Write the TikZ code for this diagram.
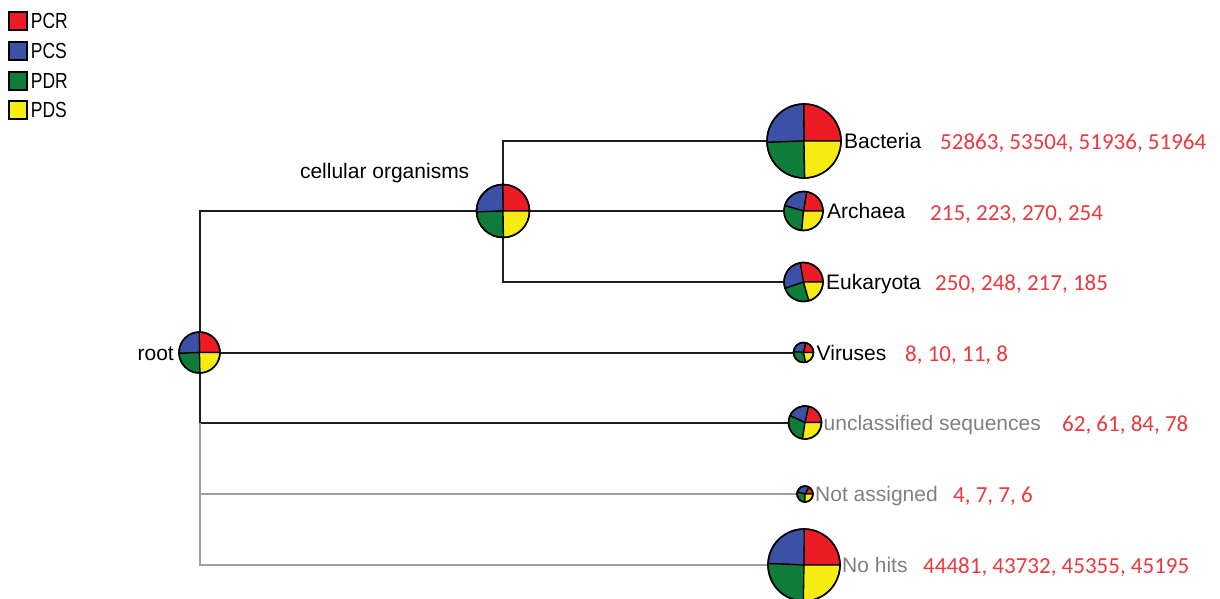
\documentclass[tikz,border=0pt]{standalone}
\usepackage{fontspec}
\setmainfont{Liberation Sans}
\newfontfamily\countfont{Carlito}

\definecolor{pcr}{RGB}{237,28,36}
\definecolor{pcs}{RGB}{60,80,165}
\definecolor{pdr}{RGB}{16,124,58}
\definecolor{pds}{RGB}{246,236,20}
\definecolor{countred}{RGB}{236,56,62}
\definecolor{dimtext}{RGB}{128,128,128}
\definecolor{dimline}{RGB}{160,160,160}
\definecolor{treeline}{RGB}{30,30,30}

% pie of the four read counts (PCR, PCS, PDR, PDS) drawn on node #1 with radius #2
\newcommand{\taxpie}[6]{%
  \edef\sliceA{\fpeval{360*(#3)/((#3)+(#4)+(#5)+(#6))}}%
  \edef\sliceB{\fpeval{360*((#3)+(#4))/((#3)+(#4)+(#5)+(#6))}}%
  \edef\sliceC{\fpeval{360*((#3)+(#4)+(#5))/((#3)+(#4)+(#5)+(#6))}}%
  \filldraw[pieslice, fill=pcr] (#1.center) -- ++(0:#2pt) arc[start angle=0, end angle=\sliceA, radius=#2pt] -- cycle;
  \filldraw[pieslice, fill=pcs] (#1.center) -- ++(\sliceA:#2pt) arc[start angle=\sliceA, end angle=\sliceB, radius=#2pt] -- cycle;
  \filldraw[pieslice, fill=pdr] (#1.center) -- ++(\sliceB:#2pt) arc[start angle=\sliceB, end angle=\sliceC, radius=#2pt] -- cycle;
  \filldraw[pieslice, fill=pds] (#1.center) -- ++(\sliceC:#2pt) arc[start angle=\sliceC, end angle=360, radius=#2pt] -- cycle;
  \draw[pierim] (#1.center) circle[radius=#2pt];
}

\tikzset{
  pienode/.style={circle, inner sep=0pt, outer sep=0pt},
  pieslice/.style={draw=black, line width=1.3pt, line join=round},
  pierim/.style={draw=black, line width=1.6pt},
  branch/.style={draw=treeline, line width=2pt},
  dimbranch/.style={draw=dimline, line width=2pt},
  taxon/.style={anchor=base west, inner sep=0pt, font=\fontsize{21}{25}\selectfont, yshift=-7.5pt},
  dimtaxon/.style={taxon, text=dimtext},
  counts/.style={anchor=base west, inner sep=0pt, text=countred, font=\countfont\fontsize{23}{27}\selectfont},
  legbox/.style={draw=black, line width=1.5pt, minimum size=18pt, inner sep=0pt},
  legtext/.style={anchor=west, inner sep=0pt, font=\fontsize{19}{22}\selectfont},
}

\begin{document}
\begin{tikzpicture}[x=1pt, y=-1pt]
\useasboundingbox[fill=white] (0,0) rectangle (1220,599);

% legend
\node[legbox, fill=pcr] (kpcr) at (18,21) {};
\node[legbox, fill=pcs] (kpcs) at (18,51) {};
\node[legbox, fill=pdr] (kpdr) at (18,81) {};
\node[legbox, fill=pds] (kpds) at (18,110) {};
\node[legtext] (tpcr) at ([xshift=3pt]kpcr.east) {\scalebox{0.92}[1.15]{PCR}};
\node[legtext] (tpcs) at ([xshift=3pt]kpcs.east) {\scalebox{0.92}[1.15]{PCS}};
\node[legtext] (tpdr) at ([xshift=3pt]kpdr.east) {\scalebox{0.92}[1.15]{PDR}};
\node[legtext] (tpds) at ([xshift=3pt]kpds.east) {\scalebox{0.92}[1.15]{PDS}};

% tree nodes
\node[pienode, minimum size=41pt] (root) at (199.5,352.5) {};
\node[pienode, minimum size=53pt] (cell) at (503,211) {};
\node[pienode, minimum size=74pt] (bac) at (804,141) {};
\node[pienode, minimum size=39pt] (arc) at (803.5,211) {};
\node[pienode, minimum size=39pt] (euk) at (803.5,282) {};
\node[pienode, minimum size=20pt] (vir) at (803.5,352.5) {};
\node[pienode, minimum size=33pt] (uncl) at (805,422.5) {};
\node[pienode, minimum size=16pt] (nass) at (805,494) {};
\node[pienode, minimum size=72pt] (nohit) at (804,565) {};

% branches
\draw[branch] (root.north) |- (cell.west);
\draw[branch] (root.east) -- (vir.west);
\draw[branch] (root.south) |- (uncl.west);
\draw[dimbranch] (root.south |- uncl.west) |- (nass.west);
\draw[dimbranch] (root.south |- nass.west) |- (nohit.west);
\draw[branch] (cell.north) |- (bac.west);
\draw[branch] (cell.east) -- (arc.west);
\draw[branch] (cell.south) |- (euk.west);

% pies
\taxpie{root}{20.5}{53400}{54000}{52200}{52200}
\taxpie{cell}{26.5}{53328}{53975}{52423}{52403}
\taxpie{bac}{37}{52863}{53504}{51936}{51964}
\taxpie{arc}{19.5}{215}{223}{270}{254}
\taxpie{euk}{19.5}{250}{248}{217}{185}
\taxpie{vir}{10}{8}{10}{11}{8}
\taxpie{uncl}{16.5}{62}{61}{84}{78}
\taxpie{nass}{8}{4}{7}{7}{6}
\taxpie{nohit}{36}{44481}{43732}{45355}{45195}

% names
\node[taxon, anchor=base east] (troot) at ([xshift=-5pt]root.west) {root};
\node[anchor=base east, inner sep=0pt, font=\fontsize{21}{25}\selectfont] (tcell) at (469.5,178) {cellular organisms};
\node[taxon] (tbac) at ([xshift=3pt]bac.east) {Bacteria};
\node[taxon] (tarc) at ([xshift=4pt]arc.east) {Archaea};
\node[taxon] (teuk) at ([xshift=3pt]euk.east) {Eukaryota};
\node[taxon] (tvir) at ([xshift=3pt]vir.east) {Viruses};
\node[dimtaxon] (tuncl) at ([xshift=2pt]uncl.east) {unclassified sequences};
\node[dimtaxon] (tnass) at ([xshift=2pt]nass.east) {Not assigned};
\node[dimtaxon] (tnohit) at ([xshift=2pt]nohit.east) {No hits};

% read counts
\node[counts] (cbac) at (940,149.5) {52863, 53504, 51936, 51964};
\node[counts] (carc) at (930,220) {215, 223, 270, 254};
\node[counts] (ceuk) at (935,290.5) {250, 248, 217, 185};
\node[counts] (cvir) at (905,361.5) {8, 10, 11, 8};
\node[counts] (cuncl) at (1062,431) {62, 61, 84, 78};
\node[counts] (cnass) at (953,502.5) {4, 7, 7, 6};
\node[counts] (cnohit) at (923,573.5) {44481, 43732, 45355, 45195};
\end{tikzpicture}
\end{document}
